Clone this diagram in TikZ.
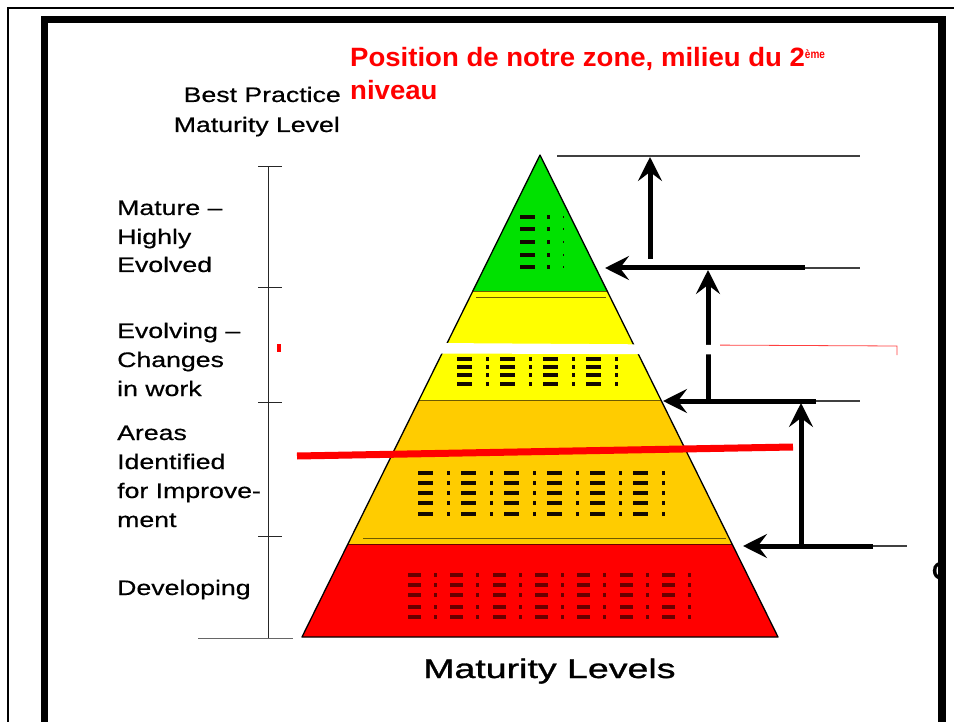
\documentclass[tikz,border=0pt]{standalone}
\usepackage{fontspec}
\setmainfont{Liberation Sans}
\newfontfamily\lblfont[FakeStretch=1.27,FakeBold=0.5]{Liberation Sans}
\newfontfamily\ttlfont[FakeStretch=1.39,FakeBold=1.2]{Liberation Sans}
\newfontfamily\redfont[FakeStretch=1.04]{Liberation Sans}
\usetikzlibrary{arrows.meta,calc}
\definecolor{grn}{RGB}{0,225,0}
\definecolor{ylw}{RGB}{255,255,0}
\definecolor{org}{RGB}{255,204,0}
\definecolor{rd}{RGB}{255,0,0}
\definecolor{seprule}{RGB}{110,90,0}
\definecolor{darkdash}{RGB}{20,10,0}
\definecolor{reddash}{RGB}{105,0,0}
\newcommand\dashgrid[8]{%
  \foreach \yy in {#2} {\foreach \k in {1,...,#3} {
    \fill[#7] ({#1+(\k-1)*#4},\yy-#8/2) rectangle ++(#5,#8);
    \fill[#7] ({#1+(\k-1)*#4+#6},\yy-#8/2) rectangle ++(3,#8);
  }}}
\tikzset{
  lbl/.style={inner sep=0pt,anchor=base west,font=\lblfont\fontsize{21}{28}\selectfont},
  thinrule/.style={line width=1.3pt,draw=black!75},
  bigarrow/.style={line width=5pt,-{Stealth[length=24pt,width=24pt,inset=9pt]}},
  seprl/.style={line width=1pt,draw=seprule},
  axisrl/.style={line width=1pt,draw=black!85}
}
\begin{document}
\begin{tikzpicture}[x=1pt,y=-1pt]
\useasboundingbox (0,0) rectangle (954,722);
\fill[white] (0,0) rectangle (954,722);

% pyramid
\coordinate (A) at (540,155);
\coordinate (BL) at (302,637);
\coordinate (BR) at (778,637);
\fill[grn] (A) -- ($(A)!0.2842!(BR)$) -- ($(A)!0.2842!(BL)$) -- cycle;
\fill[ylw] ($(A)!0.2842!(BL)$) -- ($(A)!0.2842!(BR)$) -- ($(A)!0.5083!(BR)$) -- ($(A)!0.5083!(BL)$) -- cycle;
\fill[org] ($(A)!0.5083!(BL)$) -- ($(A)!0.5083!(BR)$) -- ($(A)!0.8091!(BR)$) -- ($(A)!0.8091!(BL)$) -- cycle;
\fill[rd] ($(A)!0.8091!(BL)$) -- ($(A)!0.8091!(BR)$) -- (BR) -- (BL) -- cycle;
\draw[seprl] ($(A)!0.2842!(BL)$) -- ($(A)!0.2842!(BR)$);
\draw[seprl] (476,298) -- (606,298);
\draw[seprl] ($(A)!0.5083!(BL)$) -- ($(A)!0.5083!(BR)$);
\draw[seprl] (363,538) -- (726,538);
\draw[line width=1pt,draw=reddash] ($(A)!0.8091!(BL)$) -- ($(A)!0.8091!(BR)$);
\draw[line width=1.3pt,line join=round] (BL) -- (A) -- (BR) -- cycle;

% text-like dashes
\foreach \yy in {217,229,242,255,267} {
  \fill[darkdash] (520,\yy-1.8) rectangle ++(15,3.6);
  \fill[darkdash] (547,\yy-1.8) rectangle ++(3,3.6);
  \fill[darkdash] (563,\yy-1.2) rectangle ++(1.2,2.4);
}
\dashgrid{457}{359,367,375,384}{4}{43}{15}{29}{darkdash}{3.4}
\dashgrid{418}{473,483,493,503,514}{6}{43}{15}{29}{darkdash}{3.6}
\dashgrid{408}{575,585,595,607,617}{7}{42.3}{13}{26}{reddash}{4}

% left scale
\draw[axisrl] (268,167) -- (268,638);
\foreach \ty in {167,288,402,536} \draw[axisrl] (258,\ty) -- (282,\ty);
\draw[line width=1pt,draw=black!60] (198,638) -- (293,638);

% left labels
\node[lbl,anchor=base east] (bp1) at (341,102) {Best Practice};
\node[lbl,anchor=base east] (bp2) at (340,132) {Maturity Level};
\node[lbl] (m1) at (117,215) {Mature –};
\node[lbl] (m2) at (117,244) {Highly};
\node[lbl] (m3) at (117,272) {Evolved};
\node[lbl] (e1) at (117,338) {Evolving –};
\node[lbl] (e2) at (117,367) {Changes};
\node[lbl] (e3) at (117,396) {in work};
\node[lbl] (i1) at (117,440) {Areas};
\node[lbl] (i2) at (117,469) {Identified};
\node[lbl] (i3) at (117,498) {for Improve-};
\node[lbl] (i4) at (117,527) {ment};
\node[lbl] (d1) at (117,595) {Developing};

\node[inner sep=0pt,anchor=base west,font=\ttlfont\fontsize{27}{30}\selectfont] (ttl) at (423,678) {Maturity Levels};

% right guide lines and arrows
\coordinate (h1l) at (557,156); \coordinate (h1r) at (860,156);
\coordinate (a1s) at (650,259); \coordinate (a1e) at (650,157);
\coordinate (h2a) at (605,268); \coordinate (h2b) at (805,268); \coordinate (h2c) at (860,268);
\coordinate (a2s) at (708,400); \coordinate (a2e) at (708,270);
\coordinate (h3a) at (663,401); \coordinate (h3b) at (816,401); \coordinate (h3c) at (860,401);
\coordinate (a3s) at (801,545); \coordinate (a3e) at (801,403);
\coordinate (h4a) at (743,546); \coordinate (h4b) at (873,546); \coordinate (h4c) at (907,546);
\draw[thinrule] (h1l) -- (h1r);
\draw[thinrule] (h2b) -- (h2c);
\draw[thinrule] (h3b) -- (h3c);
\draw[thinrule] (h4b) -- (h4c);
\draw[bigarrow] (a1s) -- (a1e);
\draw[bigarrow] (h2b) -- (h2a);
\draw[bigarrow] (a2s) -- (a2e);
\draw[bigarrow] (h3b) -- (h3a);
\draw[bigarrow] (a3s) -- (a3e);
\draw[bigarrow] (h4b) -- (h4a);

% red overlay marks
\coordinate (r1) at (297,456); \coordinate (r2) at (793,447);
\draw[rd,line width=7pt] (r1) -- (r2);
\fill[white] (281,342) -- (897,346) -- (897,355) -- (281,353) -- cycle;
\draw[rd!75,line width=0.8pt] (720,345.1) -- (897,346) -- (897,355);
\fill[rd] (277,344) rectangle (281,352);

% red annotation
\node[inner sep=0pt,anchor=base west,text=rd,font=\redfont\bfseries\fontsize{26.5}{33}\selectfont] (rt1) at (350,67)
  {Position de notre zone, milieu du 2\raisebox{8pt}{\scalebox{0.8}[1]{\fontsize{12}{12}\selectfont ème}}};
\node[inner sep=0pt,anchor=base west,text=rd,font=\redfont\bfseries\fontsize{26.5}{33}\selectfont] (rt2) at (350,100) {niveau};

% partly hidden letter at the right edge
\begin{scope}
\clip (900,540) rectangle (938,600);
\node[inner sep=0pt,anchor=base west,font=\lblfont\fontsize{27}{30}\selectfont] (cc) at (931,580) {C};
\end{scope}

% frames
\draw[line width=1.5pt] (8,722) -- (8,8) -- (954,8);
\fill[black] (41,16) rectangle (946,23);
\fill[black] (41,16) rectangle (48,722);
\fill[black] (938,16) rectangle (946,722);
\end{tikzpicture}
\end{document}
